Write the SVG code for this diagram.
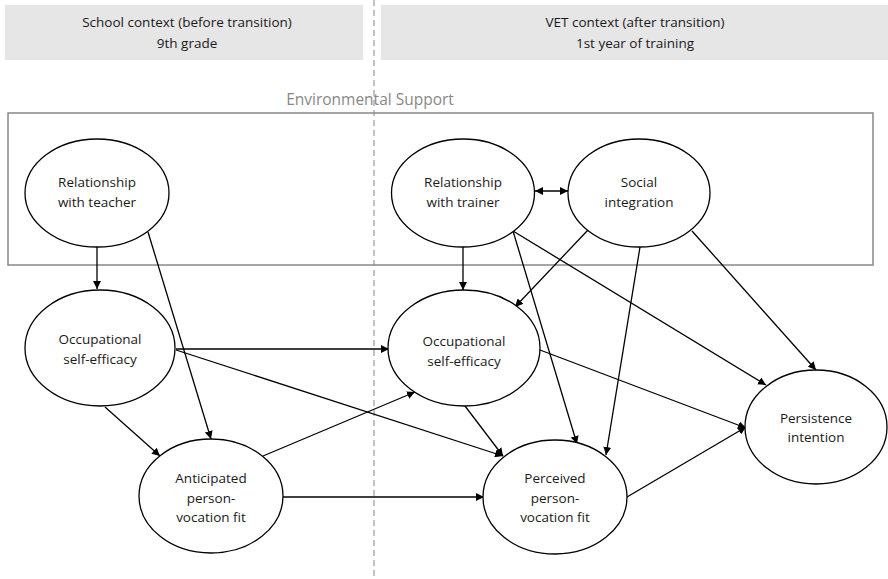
<svg xmlns="http://www.w3.org/2000/svg" width="888" height="579" viewBox="0 0 888 579">
<defs>
<marker id="ah" viewBox="0 0 10 10" refX="10" refY="5" markerWidth="8" markerHeight="8" markerUnits="userSpaceOnUse" orient="auto-start-reverse">
<path d="M0,0 L10,5 L0,10 z" fill="#000"/>
</marker>
<style>
.hdr{fill:#e6e6e6;stroke:none}
.t{font-family:"Open Sans","Liberation Sans",sans-serif;font-size:13.5px;fill:#1a1a1a;text-anchor:middle}
.h{font-family:"Open Sans","Liberation Sans",sans-serif;font-size:13.5px;fill:#1a1a1a;text-anchor:middle}
.node{fill:#fff;stroke:#000;stroke-width:1.3}
.c line{stroke:#000;stroke-width:1.3;marker-end:url(#ah)}
</style>
</defs>
<rect class="hdr" x="5" y="5" width="358" height="55"/>
<rect class="hdr" x="381" y="5" width="507" height="55"/>
<text class="h" x="187" y="27">School context (before transition)</text>
<text class="h" x="187" y="48">9th grade</text>
<text class="h" x="635" y="27">VET context (after transition)</text>
<text class="h" x="635" y="48">1st year of training</text>
<line x1="374" y1="0" x2="374" y2="579" stroke="#999" stroke-width="1.2" stroke-dasharray="6,4"/>
<text x="370" y="105" font-family="Open Sans, Liberation Sans, sans-serif" font-size="15.5" fill="#888" text-anchor="middle">Environmental Support</text>
<rect x="8" y="113" width="865" height="152" fill="none" stroke="#888" stroke-width="1.5"/>
<g class="c">
<line x1="97" y1="247" x2="97" y2="289"/>
<line x1="148" y1="232" x2="211" y2="439"/>
<line x1="105" y1="407" x2="160" y2="456"/>
<line x1="176" y1="349" x2="389" y2="349"/>
<line x1="176" y1="350" x2="503" y2="456"/>
<line x1="263" y1="456" x2="415" y2="392"/>
<line x1="283" y1="497" x2="484" y2="497"/>
<line x1="463" y1="247" x2="463" y2="290"/>
<line x1="513" y1="231" x2="766" y2="385"/>
<line x1="513" y1="231" x2="577" y2="444"/>
<line x1="588" y1="230" x2="515" y2="307"/>
<line x1="640" y1="247" x2="606" y2="455"/>
<line x1="692" y1="231" x2="816" y2="370"/>
<line x1="540" y1="350" x2="746" y2="428"/>
<line x1="465" y1="406" x2="503" y2="456"/>
<line x1="627" y1="497" x2="746" y2="427"/>
<line x1="535" y1="191" x2="568" y2="191" marker-start="url(#ah)"/>
</g>
<g id="teacher"><ellipse class="node" cx="97" cy="193" rx="72" ry="54"/><text class="t" x="97" y="187">Relationship</text><text class="t" x="97" y="207">with teacher</text></g>
<g id="occ1"><ellipse class="node" cx="100" cy="348" rx="75" ry="58"/><text class="t" x="100" y="344">Occupational</text><text class="t" x="100" y="364">self-efficacy</text></g>
<g id="anticipated"><ellipse class="node" cx="211" cy="496" rx="72" ry="57"/><text class="t" x="211" y="483">Anticipated</text><text class="t" x="211" y="503">person-</text><text class="t" x="211" y="522">vocation fit</text></g>
<g id="trainer"><ellipse class="node" cx="463" cy="193" rx="71.5" ry="54"/><text class="t" x="463" y="187">Relationship</text><text class="t" x="463" y="207">with trainer</text></g>
<g id="social"><ellipse class="node" cx="639" cy="193" rx="71" ry="54"/><text class="t" x="639" y="187">Social</text><text class="t" x="639" y="207">integration</text></g>
<g id="occ2"><ellipse class="node" cx="464" cy="348" rx="76" ry="58"/><text class="t" x="464" y="346">Occupational</text><text class="t" x="464" y="366">self-efficacy</text></g>
<g id="perceived"><ellipse class="node" cx="555" cy="497" rx="72" ry="57"/><text class="t" x="555" y="483">Perceived</text><text class="t" x="555" y="503">person-</text><text class="t" x="555" y="522">vocation fit</text></g>
<g id="persistence"><ellipse class="node" cx="816" cy="427" rx="71" ry="57"/><text class="t" x="816" y="423">Persistence</text><text class="t" x="816" y="442">intention</text></g>
</svg>
